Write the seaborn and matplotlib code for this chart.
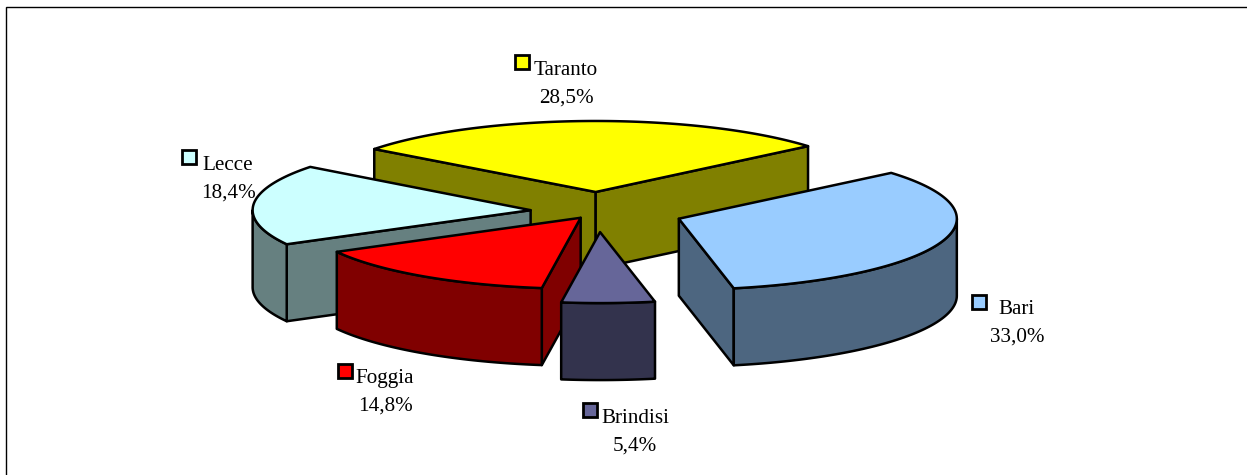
import numpy as np
import matplotlib
matplotlib.use("Agg")
import matplotlib.pyplot as plt
from matplotlib.patches import Polygon, Rectangle
import seaborn as sns

# ---- data (clockwise from the top) ----
regions = ["Taranto", "Bari", "Brindisi", "Foggia", "Lecce"]
shares = [28.5, 33.0, 5.4, 14.8, 18.4]
colors = ["#FFFF00", "#99CCFF", "#666699", "#FF0000", "#CCFFFF"]
explode = [0.275, 0.309, 0.29, 0.1076, 0.242]

# ---- layout (pixels) ----
CX, CY = 597.7, 211.5
RX, RY = 278.0, 71.0
DEPTH = 77.0
ROTATION = 1.5
label_centres = [566, 1017, 635, 385, 228]
label_baselines = [75, 314, 423, 383, 170]
key_corners = [(515, 55), (972, 295), (583, 403), (338, 364), (182, 150)]
KEY = 14
LINE_GAP = 28

sns.set_theme(style="white")
plt.rcParams["font.family"] = ["Liberation Serif", "DejaVu Serif"]

fig = plt.figure(figsize=(12.47, 4.75), dpi=100, facecolor="white")
ax = fig.add_axes([0, 0, 1, 1])
ax.set_xlim(0, 1247)
ax.set_ylim(475, 0)
ax.axis("off")

palette = sns.color_palette(colors)
LW = 1.8


def ell(apex, deg):
    t = np.radians(deg)
    return np.column_stack([apex[0] + RX * np.cos(t), apex[1] - RY * np.sin(t)])


def poly(points, fc, z):
    ax.add_patch(Polygon(points, closed=True, facecolor=fc, edgecolor="black",
                         linewidth=LW, joinstyle="round", zorder=z))


# slice angles derived from the shares
sweeps = np.array(shares) * 3.6
starts = 90 + ROTATION + sweeps[0] / 2 - np.concatenate([[0], np.cumsum(sweeps)[:-1]])
ends = starts - sweeps
mids = (starts + ends) / 2

apexes = []
for m, k in zip(mids, explode):
    t = np.radians(m)
    apexes.append((CX + k * RX * np.cos(t), CY - k * RY * np.sin(t)))

order = np.argsort([a[1] for a in apexes])
for rank, i in enumerate(order):
    z = 2 + rank
    apex = np.array(apexes[i])
    top = palette[i]
    side = tuple(c * 0.5 for c in top)
    a1, a2 = starts[i], ends[i]
    mid_pt = ell(apex, [mids[i]])[0]
    drop = np.array([0, DEPTH])

    # flat cut faces that look towards the viewer
    for ang in (a1, a2):
        e = ell(apex, [ang])[0]
        d = e - apex
        n = np.array([-d[1], d[0]])
        if np.dot(n, mid_pt - apex) > 0:
            n = -n
        if n[1] > 0:
            poly([apex, e, e + drop, apex + drop], side, z)

    # outer rim: the part of the arc on the near side
    lo2, hi2 = max(a2, -180), min(a1, 0)
    if hi2 > lo2:
        arc = ell(apex, np.linspace(hi2, lo2, 80))
        poly(np.vstack([arc, (arc + drop)[::-1]]), side, z)

    # top face
    arc = ell(apex, np.linspace(a1, a2, 120))
    poly(np.vstack([apex, arc]), top, z)

# labels and colour keys
for i, name in enumerate(regions):
    x, y = label_centres[i], label_baselines[i]
    ax.text(x, y, name, ha="center", va="baseline", fontsize=15.2, color="black", zorder=10)
    ax.text(x, y + LINE_GAP, f"{shares[i]:.1f}%".replace(".", ","), ha="center",
            va="baseline", fontsize=15.2, color="black", zorder=10)
    ax.add_patch(Rectangle(key_corners[i], KEY, KEY, facecolor=palette[i], edgecolor="black",
                           linewidth=2.0, zorder=10))

# chart frame: only top and left edges are inside the picture
ax.plot([1247, 5.5, 5.5], [7, 7, 475], color="black", lw=1.0, zorder=1, solid_joinstyle="miter")

fig.savefig("out.png", dpi=100, facecolor="white")
